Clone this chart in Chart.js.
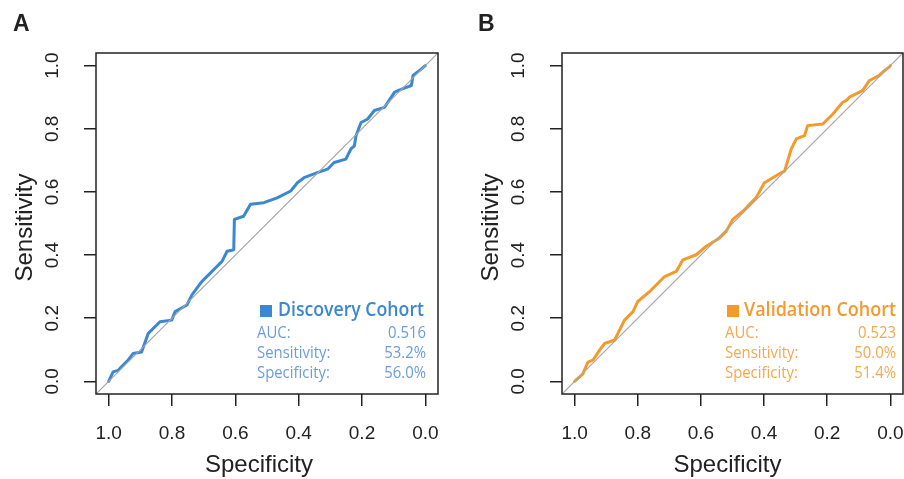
<!DOCTYPE html>
<html>
<head>
<meta charset="utf-8">
<script src="https://cdn.jsdelivr.net/npm/chart.js@4/dist/chart.umd.min.js"></script>
<style>
  html, body { margin: 0; padding: 0; background: #fff; }
  #wrap { position: relative; width: 904px; height: 479px; overflow: hidden; }
  #wrap canvas { position: absolute; top: 0; }
</style>
</head>
<body>
<div id="wrap">
  <canvas id="roc-a" width="452" height="479" style="left:0"></canvas>
  <canvas id="roc-b" width="452" height="479" style="left:452px"></canvas>
</div>
<script>
/* ROC curves — discovery vs validation cohort */
(function () {
  "use strict";

  const tickVals = [0, 0.2, 0.4, 0.6, 0.8, 1.0];
  const tickLabels = ["0.0", "0.2", "0.4", "0.6", "0.8", "1.0"];

  // discovery cohort
  const discSpec = [1.0, 0.986, 0.970, 0.955, 0.939, 0.923, 0.896, 0.875, 0.838, 0.801, 0.790, 0.753, 0.737,
    0.706, 0.679, 0.663, 0.642, 0.626, 0.605, 0.603, 0.574, 0.552, 0.510, 0.468, 0.425, 0.404, 0.383,
    0.341, 0.309, 0.288, 0.251, 0.235, 0.224, 0.219, 0.203, 0.182, 0.161, 0.129, 0.097, 0.071, 0.044,
    0.039, 0.018, 0.0];
  const discSens = [0.0, 0.030, 0.035, 0.051, 0.067, 0.088, 0.093, 0.152, 0.189, 0.194, 0.221, 0.242, 0.274,
    0.316, 0.343, 0.359, 0.380, 0.412, 0.417, 0.513, 0.523, 0.561, 0.566, 0.581, 0.603, 0.629, 0.645,
    0.661, 0.672, 0.693, 0.704, 0.736, 0.746, 0.778, 0.820, 0.831, 0.858, 0.868, 0.916, 0.927, 0.937,
    0.969, 0.985, 1.0];

  // validation cohort
  const valSpec = [1.0, 0.974, 0.958, 0.942, 0.921, 0.905, 0.873, 0.863, 0.842, 0.815, 0.800, 0.763, 0.715,
    0.678, 0.657, 0.615, 0.583, 0.541, 0.520, 0.499, 0.467, 0.425, 0.399, 0.346, 0.335, 0.314, 0.298,
    0.272, 0.262, 0.214, 0.182, 0.151, 0.140, 0.130, 0.088, 0.066, 0.035, 0.024, 0.003, 0.0];
  const valSens = [0.0, 0.024, 0.061, 0.067, 0.099, 0.120, 0.131, 0.152, 0.194, 0.221, 0.253, 0.284, 0.332,
    0.348, 0.385, 0.401, 0.428, 0.454, 0.475, 0.513, 0.539, 0.582, 0.629, 0.661, 0.666, 0.736, 0.768,
    0.778, 0.810, 0.815, 0.847, 0.884, 0.889, 0.900, 0.921, 0.953, 0.969, 0.980, 0.996, 1.0];

  // chance line, corner to corner of the plot region
  const diagSpec = [1.04, -0.04];
  const diagSens = [-0.04, 1.04];

  const discStats = [["AUC:", "0.516"], ["Sensitivity:", "53.2%"], ["Specificity:", "56.0%"]];
  const valStats = [["AUC:", "0.523"], ["Sensitivity:", "50.0%"], ["Specificity:", "51.4%"]];

  const AXIS_FONT = "'Liberation Sans', Arial, sans-serif";
  const LEG_FONT = "'Open Sans', 'Noto Sans', sans-serif";

  const toPts = (xs, ys) => xs.map((x, i) => ({ x: x, y: ys[i] }));

  // squeeze text horizontally (the original legend font is a narrow one)
  function narrowText(ctx, text, x, y, k) {
    ctx.save();
    ctx.translate(x, y);
    ctx.scale(k, 1);
    ctx.fillText(text, 0, 0);
    ctx.restore();
  }

  const decor = {
    id: "decor",
    afterDraw(chart, args, o) {
      const ctx = chart.ctx;
      const a = chart.chartArea;
      const ys = chart.scales.y;
      ctx.save();
      // frame
      ctx.strokeStyle = "#222";
      ctx.lineWidth = 1.5;
      ctx.strokeRect(a.left, a.top, a.right - a.left, a.bottom - a.top);

      ctx.fillStyle = "#222";
      ctx.textAlign = "center";
      ctx.textBaseline = "middle";
      // y tick labels, rotated like base R
      ctx.font = `19px ${AXIS_FONT}`;
      tickVals.forEach((v, i) => {
        ctx.save();
        ctx.translate(a.left - 43, ys.getPixelForValue(v));
        ctx.rotate(-Math.PI / 2);
        ctx.fillText(tickLabels[i], 0, 0);
        ctx.restore();
      });
      // axis titles
      ctx.font = `24px ${AXIS_FONT}`;
      ctx.save();
      ctx.translate(a.left - 71, (a.top + a.bottom) / 2 + 4);
      ctx.rotate(-Math.PI / 2);
      ctx.fillText("Sensitivity", 0, 0);
      ctx.restore();
      ctx.fillText("Specificity", (a.left + a.right) / 2 + o.titleShift, 465);
      // panel letter
      ctx.font = `bold 23px ${AXIS_FONT}`;
      ctx.textAlign = "left";
      ctx.fillText(o.letter, a.left - o.letterOff, 25);

      // legend block
      const R = a.right - o.legRight;
      const L = R - o.legW;
      ctx.fillStyle = o.color;
      ctx.fillRect(L + o.sqOff, a.bottom - 89, 12, 12);
      ctx.font = `600 20px ${LEG_FONT}`;
      ctx.textAlign = "left";
      const k = o.nameW / ctx.measureText(o.name).width;
      narrowText(ctx, o.name, L + o.nameOff, a.bottom - 84, k);
      ctx.fillStyle = o.light;
      ctx.font = `16px ${LEG_FONT}`;
      o.stats.forEach((row, i) => {
        const y = a.bottom - 61 + i * 20;
        ctx.textAlign = "left";
        narrowText(ctx, row[0], L, y, 0.93);
        ctx.textAlign = "right";
        narrowText(ctx, row[1], R, y, 0.93);
      });
      ctx.restore();
    },
  };

  function rocChart(id, spec, sens, color, yWidth, padRight, deco) {
    const el = document.getElementById(id);
    return new Chart(el, {
      type: "scatter",
      data: {
        datasets: [
          { data: toPts(diagSpec, diagSens), showLine: true, borderColor: "#a6a6a6", borderWidth: 1.2, pointRadius: 0 },
          { data: toPts(spec, sens), showLine: true, borderColor: color, borderWidth: 3, pointRadius: 0,
            tension: 0, borderJoinStyle: "round", borderCapStyle: "round" },
        ],
      },
      options: {
        responsive: false, animation: false, events: [],
        layout: { padding: { top: 53, right: padRight, left: 0, bottom: 0 } },
        plugins: { legend: { display: false }, tooltip: { enabled: false }, decor: deco },
        scales: {
          x: {
            type: "linear", reverse: true, min: -0.04, max: 1.04,
            afterBuildTicks: (ax) => { ax.ticks = tickVals.map((v) => ({ value: v })); },
            afterFit: (s) => { s.height = 85; },
            ticks: {
              autoSkip: false, maxRotation: 0, padding: 16, color: "#222",
              font: { family: AXIS_FONT, size: 19 },
              callback: (v) => tickLabels[tickVals.indexOf(v)],
            },
            grid: { drawOnChartArea: false, drawTicks: true, tickLength: 12, color: "#222", lineWidth: 1.5 },
            border: { display: false },
          },
          y: {
            type: "linear", min: -0.04, max: 1.04,
            afterBuildTicks: (ax) => { ax.ticks = tickVals.map((v) => ({ value: v })); },
            afterFit: (s) => { s.width = yWidth; },
            ticks: { display: false },
            grid: { drawOnChartArea: false, drawTicks: true, tickLength: 12, color: "#222", lineWidth: 1.5 },
            border: { display: false },
          },
        },
      },
      plugins: [decor],
    });
  }

  rocChart("roc-a", discSpec, discSens, "#3b87d2", 96, 14, {
    letter: "A", letterOff: 83, titleShift: -8, legRight: 12, legW: 169, sqOff: 3, nameOff: 21,
    name: "Discovery Cohort", nameW: 146, color: "#3b87d2", light: "#6c9dd8", stats: discStats,
  });
  rocChart("roc-b", valSpec, valSens, "#f39a2c", 110, 1, {
    letter: "B", letterOff: 84, titleShift: -5, legRight: 7, legW: 171, sqOff: 2, nameOff: 19,
    name: "Validation Cohort", nameW: 152, color: "#f39a2c", light: "#f3a94f", stats: valStats,
  });
})();
</script>
</body>
</html>
